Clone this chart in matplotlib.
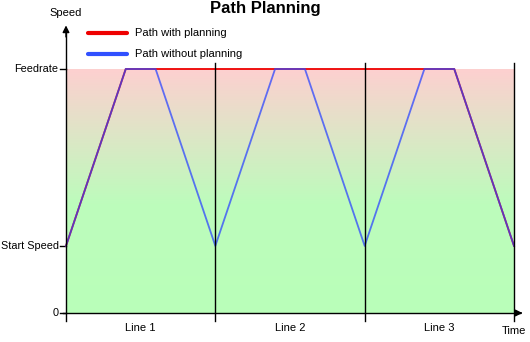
import numpy as np
import matplotlib.pyplot as plt
from matplotlib.colors import LinearSegmentedColormap

plt.rcParams['font.family'] = ['Liberation Sans', 'DejaVu Sans']

# dados (tempo em "linhas", velocidade relativa ao feedrate)
feedrate = 1.0
start_speed = 0.275
t_planned = [0, 0.4, 2.6, 3.0]
v_planned = [start_speed, feedrate, feedrate, start_speed]
t_unplanned = [0, 0.4, 0.6, 1.0, 1.4, 1.6, 2.0, 2.4, 2.6, 3.0]
v_unplanned = [start_speed, feedrate, feedrate, start_speed, feedrate, feedrate,
               start_speed, feedrate, feedrate, start_speed]
line_names = ['Line 1', 'Line 2', 'Line 3']
line_ends = [1, 2, 3]

W, H = 530, 342
fig = plt.figure(figsize=(W / 100, H / 100), dpi=100)
ax = fig.add_axes([66 / W, 29 / H, 448 / W, 244 / H])
ax.set_xlim(0, 3)
ax.set_ylim(0, 1)
ax.axis('off')

# fundo em degradê (rosa -> verde)
cmap = LinearSegmentedColormap.from_list('bg', [(0, '#b9ffb9'), (0.45, '#bdfcbc'),
                                                (1, '#fdd0d0')])
grad = np.linspace(0, 1, 256).reshape(-1, 1)
ax.imshow(grad, extent=[0, 3, 0, feedrate], origin='lower', aspect='auto',
          cmap=cmap, zorder=0)

# linhas verticais de cada segmento
for x in line_ends:
    ax.plot([x, x], [-0.033, 1.025], color='black', lw=1, clip_on=False, zorder=3)

# eixos com setas
ax.plot([0, 0], [-0.033, 1.16], color='black', lw=1, clip_on=False, zorder=3)
ax.plot([-0.02, 3.04], [0, 0], color='black', lw=1, clip_on=False, zorder=3)
ax.annotate('', xy=(0, 1.19), xytext=(0, 1.12),
            arrowprops=dict(arrowstyle='-|>', color='black', lw=1, mutation_scale=10),
            annotation_clip=False)
ax.annotate('', xy=(3.075, 0), xytext=(3.02, 0),
            arrowprops=dict(arrowstyle='-|>', color='black', lw=1, mutation_scale=10),
            annotation_clip=False)

# marcas do eixo y
for y, lab in [(feedrate, 'Feedrate'), (start_speed, 'Start Speed'), (0, '0')]:
    ax.plot([-0.04, 0], [y, y], color='black', lw=1, clip_on=False)
    ax.text(-0.05, y, lab, ha='right', va='center', fontsize=7.8)

for i, name in enumerate(line_names):
    ax.text(i + 0.5, -0.04, name, ha='center', va='top', fontsize=8)
ax.text(3.0, -0.055, 'Time', ha='center', va='top', fontsize=8)
ax.text(0, 1.21, 'Speed', ha='center', va='bottom', fontsize=8)

# caminhos
ax.plot(t_planned, v_planned, color='#ee0000', lw=1.3, zorder=2, clip_on=False)
ax.plot(t_unplanned, v_unplanned, color='#2f48ff', lw=1.3, alpha=0.75, zorder=2,
        clip_on=False)

# legenda
ax.plot([0.147, 0.407], [1.148, 1.148], color='#ee0000', lw=3, clip_on=False,
        solid_capstyle='round')
ax.plot([0.147, 0.407], [1.062, 1.062], color='#3050ff', lw=3, clip_on=False,
        solid_capstyle='round')
ax.text(0.46, 1.148, 'Path with planning', va='center', fontsize=8)
ax.text(0.46, 1.062, 'Path without planning', va='center', fontsize=8)

fig.text(265 / W, 1 - 8 / H, 'Path Planning', ha='center', va='center',
         fontsize=12, fontweight='bold')

fig.savefig('out.png', dpi=100)
